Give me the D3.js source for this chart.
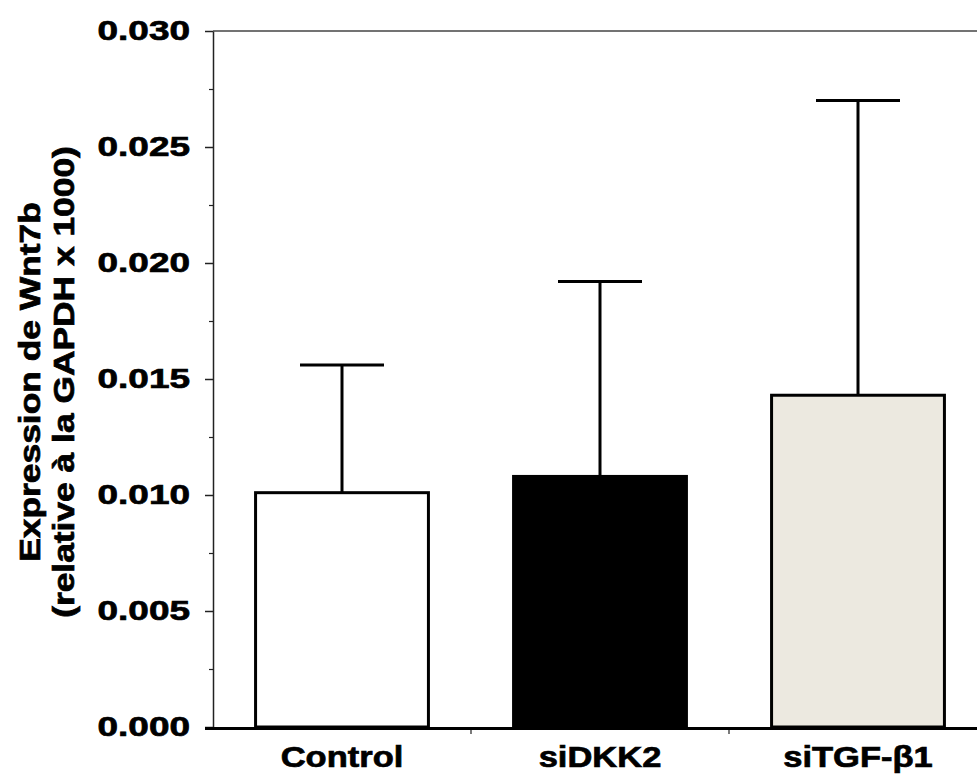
<!DOCTYPE html>
<html>
<head>
<meta charset="utf-8">
<script src="https://cdn.jsdelivr.net/npm/d3@7"></script>
<style>
  html, body { margin: 0; padding: 0; background: #fff; }
  svg { display: block; }
  text { font-family: "Liberation Sans", Arial, Helvetica, sans-serif; font-weight: bold; fill: #000; }
  .heavy { stroke: #000; stroke-width: 0.7px; }
</style>
</head>
<body>
<svg id="chart" width="977" height="775"></svg>
<script>
// Wnt7b expression per condition (mean and SD)
const categories = ["Control", "siDKK2", "siTGF-\u03b21"];
const means = [0.0101, 0.0108, 0.0143];
const errors = [0.0055, 0.0084, 0.0127];
const fills = ["#ffffff", "#000000", "#ece9e0"];
const yTicks = [0, 0.005, 0.010, 0.015, 0.020, 0.025, 0.030];
const yMinorTicks = [0.0025, 0.0075, 0.0125, 0.0175, 0.0225, 0.0275];
const titleLines = ["Expression de Wnt7b", "(relative \u00e0 la GAPDH x 1000)"];

const svg = d3.select("#chart");
const plotLeft = 213, plotRight = 987, plotTop = 31, plotBottom = 727;

const y = d3.scaleLinear().domain([0, 0.03]).range([plotBottom, plotTop]);
const x = d3.scaleBand().domain(categories).range([plotLeft, plotRight])
  .paddingInner(0.33).paddingOuter(0.165);

// frame top line
svg.append("line")
  .attr("x1", plotLeft).attr("x2", 977 + 20)
  .attr("y1", y(0.03)).attr("y2", y(0.03))
  .attr("stroke", "#444").attr("stroke-width", 1.5);

// minor y ticks
svg.append("g")
  .attr("transform", `translate(${plotLeft},0)`)
  .call(d3.axisLeft(y).tickValues(yMinorTicks).tickSize(4).tickFormat(""))
  .call(g => g.select(".domain").remove())
  .call(g => g.selectAll("line").attr("stroke", "#222").attr("stroke-width", 1.2));

// major y axis
const yAxis = svg.append("g")
  .attr("transform", `translate(${plotLeft},0)`)
  .call(d3.axisLeft(y).tickValues(yTicks).tickSize(8).tickSizeOuter(0)
    .tickPadding(15).tickFormat(d3.format(".3f")));
yAxis.select(".domain").attr("stroke", "#222").attr("stroke-width", 1.5);
yAxis.selectAll(".tick line").attr("stroke", "#222").attr("stroke-width", 1.5);
yAxis.selectAll(".tick text")
  .attr("x", 0)
  .attr("transform", "translate(-23,0) scale(1.32,1)")
  .attr("font-size", 28)
  .attr("class", "heavy")
  .style("font-family", "'Liberation Sans', Arial, sans-serif")
  .style("font-weight", "bold")
  .attr("fill", "#000");

// bars
svg.append("g").selectAll("rect")
  .data(categories)
  .join("rect")
  .attr("x", d => x(d))
  .attr("width", x.bandwidth())
  .attr("y", (d, i) => y(means[i]))
  .attr("height", (d, i) => y(0) - y(means[i]))
  .attr("fill", (d, i) => fills[i])
  .attr("stroke", "#000")
  .attr("stroke-width", 3);

// error bars (upper only)
const capW = 84;
const eb = svg.append("g").attr("stroke", "#000").attr("stroke-width", 3);
eb.selectAll("line.v")
  .data(categories)
  .join("line")
  .attr("class", "v")
  .attr("x1", d => x(d) + x.bandwidth() / 2)
  .attr("x2", d => x(d) + x.bandwidth() / 2)
  .attr("y1", (d, i) => y(means[i]))
  .attr("y2", (d, i) => y(means[i] + errors[i]));
eb.selectAll("line.cap")
  .data(categories)
  .join("line")
  .attr("class", "cap")
  .attr("x1", d => x(d) + x.bandwidth() / 2 - capW / 2)
  .attr("x2", d => x(d) + x.bandwidth() / 2 + capW / 2)
  .attr("y1", (d, i) => y(means[i] + errors[i]))
  .attr("y2", (d, i) => y(means[i] + errors[i]));

// x axis baseline with ticks between categories
svg.append("line")
  .attr("x1", plotLeft - 8).attr("x2", 977 + 20)
  .attr("y1", y(0) + 1.5).attr("y2", y(0) + 1.5)
  .attr("stroke", "#000").attr("stroke-width", 3);
const bounds = categories.slice(1).map(d => x(d) - x.step() * x.paddingInner() / 2);
svg.append("g").selectAll("line")
  .data(bounds)
  .join("line")
  .attr("x1", d => d).attr("x2", d => d)
  .attr("y1", y(0) + 3).attr("y2", y(0) + 7)
  .attr("stroke", "#222").attr("stroke-width", 1.2);

// category labels
svg.append("g").selectAll("text")
  .data(categories)
  .join("text")
  .attr("class", "heavy")
  .attr("transform", d => `translate(${x(d) + x.bandwidth() / 2},767) scale(1.15,1)`)
  .attr("text-anchor", "middle")
  .attr("font-size", 30)
  .text(d => d);

// y axis title
svg.append("g")
  .attr("transform", "translate(0,382) rotate(-90) scale(1.22,1)")
  .selectAll("text")
  .data(titleLines)
  .join("text")
  .attr("class", "heavy")
  .attr("x", 0)
  .attr("y", (d, i) => 40 + i * 34)
  .attr("text-anchor", "middle")
  .attr("font-size", 29)
  .text(d => d);
</script>
</body>
</html>
